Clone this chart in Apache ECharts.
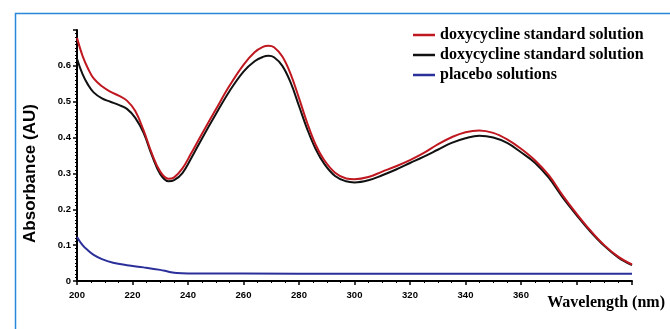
<!DOCTYPE html>
<html>
<head>
<meta charset="utf-8">
<script src="https://cdn.jsdelivr.net/npm/echarts@6/dist/echarts.min.js"></script>
<style>html,body{margin:0;padding:0;background:#fff;}#c{width:670px;height:329px;}</style>
</head>
<body>
<div id="c"></div>
<script>
const seriesNames = ['doxycycline standard solution', 'doxycycline standard solution', 'placebo solutions'];
const redWl = [200,202,204,206,209,212,215,218,221,224,227,230,233,235,238,241,245,250,255,260,264,267,269,271,274,277,280,283,286,289,293,297,300,305,310,315,320,325,330,335,340,345,350,355,360,365,370,375,380,385,390,395,400];
const redAbs = [0.678,0.628,0.592,0.565,0.543,0.528,0.517,0.503,0.474,0.42,0.355,0.305,0.285,0.289,0.314,0.354,0.41,0.478,0.545,0.603,0.638,0.653,0.656,0.652,0.626,0.577,0.51,0.44,0.38,0.338,0.302,0.286,0.284,0.29,0.305,0.32,0.337,0.357,0.381,0.401,0.415,0.42,0.413,0.395,0.369,0.337,0.295,0.239,0.188,0.141,0.1,0.068,0.046];
const blackWl = redWl;
const blackAbs = [0.62,0.577,0.547,0.526,0.509,0.5,0.491,0.48,0.455,0.413,0.35,0.298,0.278,0.281,0.301,0.34,0.397,0.465,0.53,0.584,0.613,0.625,0.628,0.624,0.6,0.553,0.488,0.423,0.368,0.328,0.293,0.278,0.275,0.281,0.295,0.311,0.329,0.347,0.366,0.385,0.398,0.405,0.4,0.385,0.359,0.33,0.288,0.233,0.184,0.138,0.098,0.066,0.044];
const blueWl = [200,202,204,206,209,213,218,224,230,233,236,240,260,300,350,400];
const blueAbs = [0.123,0.1,0.085,0.073,0.061,0.051,0.044,0.038,0.031,0.026,0.022,0.021,0.021,0.02,0.02,0.02];
const xTickLabels = ['200','220','240','260','280','300','320','340','360'];
const yTickLabels = ['0','0.1','0.2','0.3','0.4','0.5','0.6'];

const zip = (a, b) => a.map((v, i) => [v, b[i]]);
const chart = echarts.init(document.getElementById('c'));
const axisFont = { fontFamily: 'Liberation Sans', fontWeight: 'bold', fontSize: 9.5, color: '#000' };
chart.setOption({
  animation: false,
  backgroundColor: '#fff',
  grid: { left: 77, right: 38, top: 30, bottom: 48 },
  graphic: [{
    type: 'rect', left: 13, top: 11, z: -10,
    shape: { width: 700, height: 400 },
    style: { fill: 'none', stroke: '#2a86d6', lineWidth: 1.5 }
  }],
  legend: {
    orient: 'vertical', left: 408, top: 21, itemGap: 2,
    itemWidth: 22, itemHeight: 2.5, icon: 'rect',
    textStyle: { fontFamily: 'Liberation Serif', fontWeight: 'bold', fontSize: 16, color: '#000', lineHeight: 18 },
    data: [
      { name: 'r', itemStyle: { color: '#c01820' } },
      { name: 'k', itemStyle: { color: '#111' } },
      { name: 'b', itemStyle: { color: '#2b2f9a' } }
    ],
    formatter: n => ({ r: seriesNames[0], k: seriesNames[1], b: seriesNames[2] })[n]
  },
  xAxis: {
    type: 'value', min: 200, max: 400, interval: 20, offset: 3,
    name: 'Wavelength (nm)', nameLocation: 'end', nameGap: 33,
    nameTextStyle: { fontFamily: 'Liberation Serif', fontWeight: 'bold', fontSize: 16, color: '#000', align: 'right', verticalAlign: 'top', padding: [14, 0, 0, 0] },
    axisLine: { lineStyle: { color: '#000', width: 2 } },
    axisTick: { length: 4, lineStyle: { color: '#000', width: 1.5 } },
    minorTick: { show: true, splitNumber: 4, length: 2, lineStyle: { color: '#000' } },
    splitLine: { show: false },
    axisLabel: Object.assign({ margin: 6, formatter: v => xTickLabels.includes(String(v)) ? String(v) : '' }, axisFont)
  },
  yAxis: {
    type: 'value', min: 0, max: 0.7, interval: 0.1,
    name: 'Absorbance (AU)', nameLocation: 'middle', nameGap: 38,
    nameTextStyle: { fontFamily: 'Liberation Sans', fontWeight: 'bold', fontSize: 17, color: '#000', padding: [0, 36, 0, 0] },
    axisLine: { show: true, lineStyle: { color: '#000', width: 2 } },
    axisTick: { show: true, length: 4, lineStyle: { color: '#000', width: 1.5 } },
    minorTick: { show: true, splitNumber: 10, length: 2, lineStyle: { color: '#000' } },
    splitLine: { show: false },
    axisLabel: Object.assign({ margin: 6, formatter: v => { const s = String(Math.round(v * 10) / 10); return yTickLabels.includes(s) ? s : ''; } }, axisFont)
  },
  series: [
    { name: 'k', type: 'line', smooth: 0.4, showSymbol: false, data: zip(blackWl, blackAbs), lineStyle: { color: '#111', width: 2 }, itemStyle: { color: '#111' }, z: 2 },
    { name: 'r', type: 'line', smooth: 0.4, showSymbol: false, data: zip(redWl, redAbs), lineStyle: { color: '#c01820', width: 2 }, itemStyle: { color: '#c01820' }, z: 3 },
    { name: 'b', type: 'line', smooth: 0.4, showSymbol: false, data: zip(blueWl, blueAbs), lineStyle: { color: '#2b2f9a', width: 2 }, itemStyle: { color: '#2b2f9a' }, z: 4 }
  ]
});
</script>
</body>
</html>
